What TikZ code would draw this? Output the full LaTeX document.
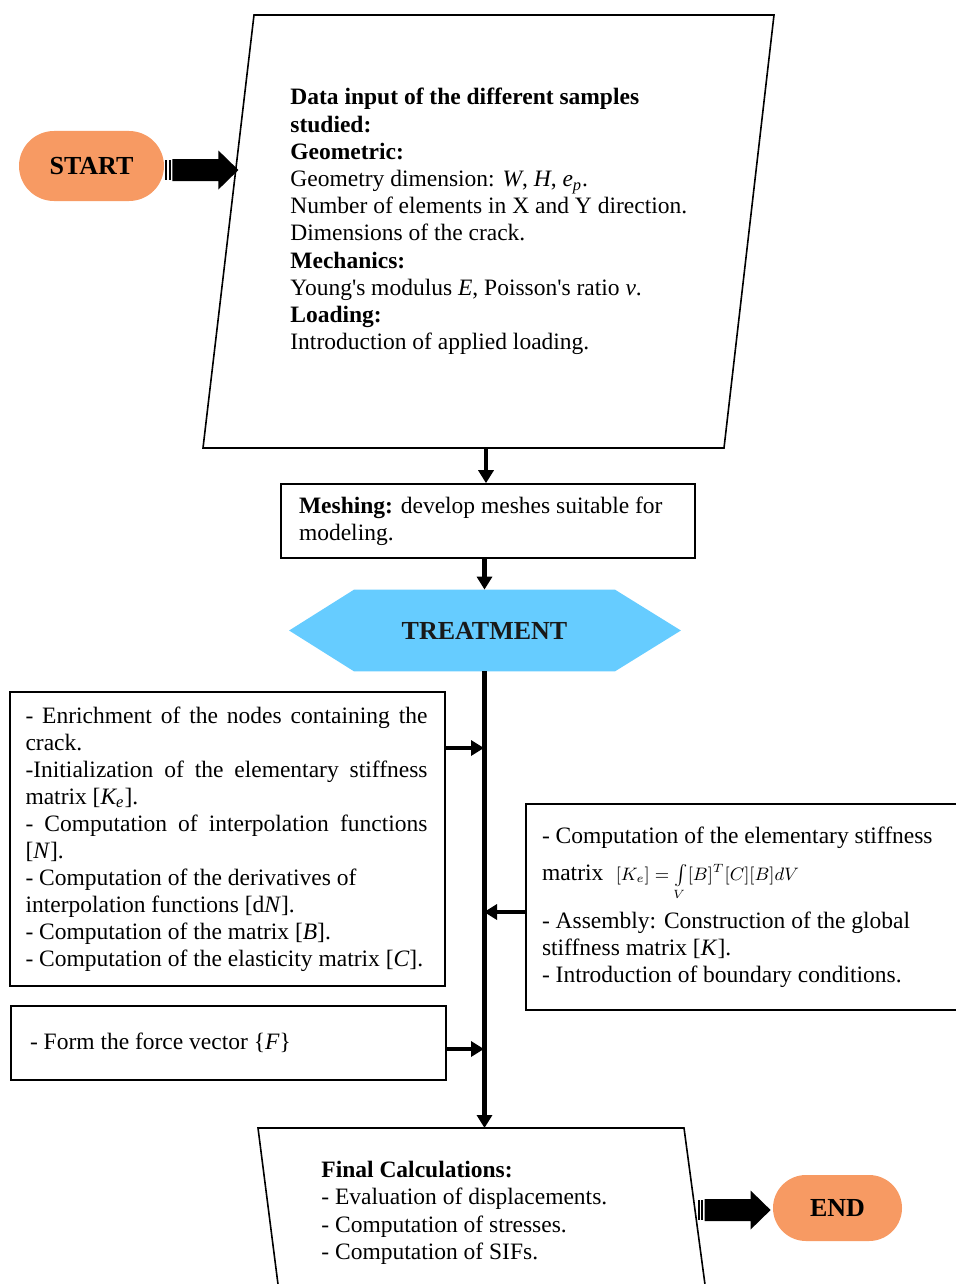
\documentclass[tikz,border=0pt]{standalone}
\usepackage{fontspec}
\setmainfont{Liberation Serif}
\usetikzlibrary{arrows.meta,positioning,calc,shapes.misc,backgrounds}
\definecolor{forange}{HTML}{F79A63}
\definecolor{fblue}{HTML}{66CCFF}
\newcommand{\fs}{\fontsize{11.75}{13.6}\selectfont}
\newcommand{\fss}{\fontsize{11.75}{13.5}\selectfont}
\newcommand{\fsbig}{\fontsize{13}{15}\selectfont}
\newcommand{\jline}[1]{\makebox[201pt][s]{#1}}
\tikzset{
  txt/.style     = {inner sep=0pt, anchor=north west, align=left, font=\fs},
  box/.style     = {draw, line width=0.8pt},
  txtbox/.style  = {draw, line width=0.8pt, align=flush left, font=\fss,
                    inner ysep=0pt},
  term/.style    = {rounded rectangle, fill=forange, inner sep=0pt,
                    font=\fsbig\bfseries},
  flow/.style    = {line width=2.2pt, -{Triangle[length=6.5pt,width=7.5pt]}},
  fatarrow/.pic  = {
    \fill (0,-10) rectangle (2,10);
    \fill (3.5,-10) rectangle (5.5,10);
    \fill (7,-11) -- (53,-11) -- (53,-19.5) -- (73,0) -- (53,19.5)
          -- (53,11) -- (7,11) -- cycle;
  },
}
\begin{document}
\begin{tikzpicture}[x=0.5pt,y=-0.5pt]
\useasboundingbox (0,0) rectangle (956,1284);
% data input
\coordinate (in-tl) at (254,15);
\coordinate (in-tr) at (774,15);
\coordinate (in-br) at (724,448);
\coordinate (in-bl) at (203,448);
\coordinate (in-out) at (486,448);
\draw[box] (in-tl) -- (in-tr) -- (in-br) -- (in-bl) -- cycle;
\node[txt] (intxt) at (290,88) {%
  \textbf{Data input of the different samples}\\
  \textbf{studied:}\\
  \textbf{Geometric:}\\
  Geometry dimension: \textit{W}, \textit{H}, \textit{e\textsubscript{p}}.\\
  Number of elements in X and Y direction.\\
  Dimensions of the crack.\\
  \textbf{Mechanics:}\\
  Young\textquotesingle s modulus \textit{E}, Poisson\textquotesingle s ratio \textit{v}.\\
  \textbf{Loading:}\\
  Introduction of applied loading.};
\node[term, minimum width=72.5pt, minimum height=35pt] (start) at (91.5,166) {START};
\pic at ($(start.east)+(1,4)$) {fatarrow};

% meshing
\node[txtbox, font=\fs, text width=189pt, inner xsep=9pt, minimum height=37pt] (mesh)
  at (488,521) {\textbf{Meshing:} develop meshes suitable for\\ modeling.};
\draw[flow] (in-out) -- (in-out |- mesh.north);

% treatment
\node[inner sep=0pt, minimum width=130pt, minimum height=40.5pt,
      font=\fsbig\bfseries, text=black!90] (treat) at (484.5,630.5) {TREATMENT};
\begin{scope}[on background layer]
  \fill[fblue] (treat.north west) -- (treat.north east) -- ($(treat.east)+(66,0)$)
    -- (treat.south east) -- (treat.south west) -- ($(treat.west)+(-65,0)$) -- cycle;
\end{scope}
\draw[flow] (mesh.south -| treat.north) -- (treat.north);

% final calculations
\coordinate (fin-tl) at (258,1128);
\coordinate (fin-tr) at (684,1128);
\coordinate (fin-br) at (706,1292);
\coordinate (fin-bl) at (279,1292);
\draw[box] (fin-tl) -- (fin-tr) -- (fin-br) -- (fin-bl) -- cycle;
\node[txt] (fintxt) at (321,1161) {%
  \textbf{Final Calculations:}\\
  - Evaluation of displacements.\\
  - Computation of stresses.\\
  - Computation of SIFs.};
\draw[flow] (treat.south) -- (treat.south |- fin-tl);

% side boxes
\node[txtbox, text width=202pt, inner xsep=7.75pt, minimum height=147pt] (elem)
  at (227.5,839) {%
  \jline{- Enrichment of the nodes containing the}\\
  crack.\\
  \jline{-Initialization of the elementary stiffness}\\
  matrix {[}\textit{K\textsubscript{e}}{]}.\\
  \jline{- Computation of interpolation functions}\\
  {[}\textit{N}{]}.\\
  - Computation of the derivatives of\\
  interpolation functions {[}d\textit{N}{]}.\\
  - Computation of the matrix {[}\textit{B}{]}.\\
  \mbox{- Computation of the elasticity matrix {[}\textit{C}{]}.}};
\node[txtbox, text width=198.5pt, inner xsep=9.5pt, minimum height=37pt] (force)
  at (228.5,1043) {- Form the force vector \{\textit{F}\}};
\node[txtbox, text width=201pt, inner xsep=8pt, minimum height=103pt] (glob)
  at (743,907) {%
  \mbox{- Computation of the elementary stiffness}\\[5pt]
  matrix\; \smash{\small$[K_e]=\int\limits_V [B]^T[C][B]dV$}\\[10.5pt]
  - Assembly: Construction of the global\\
  stiffness matrix {[}\textit{K}{]}.\\
  - Introduction of boundary conditions.};
\coordinate (j1) at (484,748);
\coordinate (j2) at (484,912);
\coordinate (j3) at (484,1049);
\draw[flow] (elem.east |- j1) -- (j1);
\draw[flow] (glob.west |- j2) -- (j2);
\draw[flow] (force.east |- j3) -- (j3);

% end
\node[term, minimum width=64.5pt, minimum height=33pt] (endn) at (837.5,1208) {END};
\pic at ($(endn.west)+(-75,2)$) {fatarrow};
\end{tikzpicture}
\end{document}
